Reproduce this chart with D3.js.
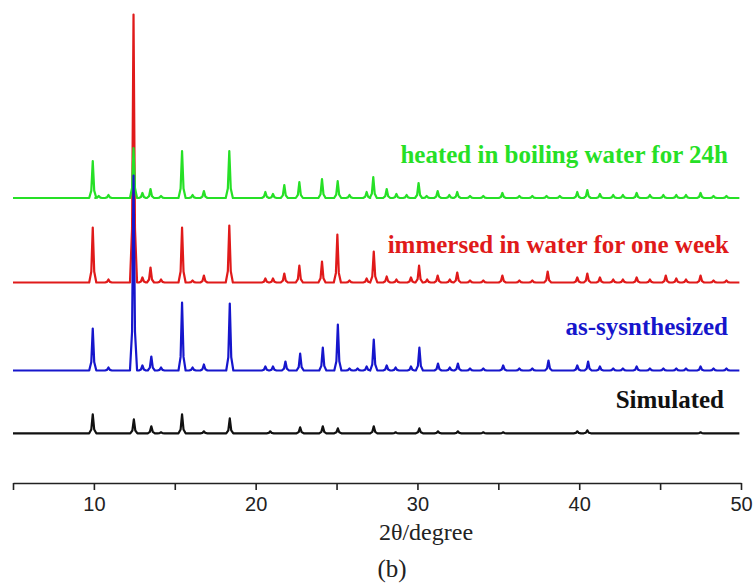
<!DOCTYPE html>
<html>
<head>
<meta charset="utf-8">
<script src="https://cdn.jsdelivr.net/npm/d3@7"></script>
<style>
  body { margin: 0; background: #fff; }
  .tick text { font-family: "Liberation Sans", Arial, sans-serif; }
</style>
</head>
<body>
<div id="plot"></div>
<script>
// peak lists: [2theta, intensity (a.u.)]
var simulated = [[9.93,19],[12.47,14],[13.55,7],[14.15,1],[15.45,19],[16.8,2],[18.4,15],[20.9,2],[22.75,6],[24.15,7],[25.08,5],[27.3,7],[28.65,1],[30.12,5],[31.27,2],[32.5,2],[34.07,1],[35.3,1],[39.88,2],[40.5,3],[47.5,1]];

var asSynth = [[9.93,42],[10.9,3],[12.45,195],[13.0,5],[13.55,14],[14.15,3],[15.45,68],[16.1,3],[16.8,6],[18.4,67],[20.6,4],[21.07,4],[21.84,9],[22.75,17],[24.15,23],[25.08,46],[25.8,2],[26.3,2],[26.86,4],[27.3,31],[28.1,5],[28.65,3],[29.6,4],[30.12,23],[31.27,7],[32.0,3],[32.5,7],[33.25,2],[34.07,2],[35.3,5],[36.3,2],[37.1,2],[38.1,10],[39.88,5],[40.55,9],[41.28,4],[42.1,2],[42.7,2],[43.55,4],[44.37,2],[45.2,2],[46.0,2],[46.6,2],[47.5,4],[48.3,2],[49.1,2]];

var immersed = [[9.93,55],[10.9,3],[12.45,268],[13.0,5],[13.5,15],[14.15,3],[15.45,55],[16.1,2],[16.8,7],[18.37,57],[20.6,4],[21.07,4],[21.77,9],[22.7,17],[24.1,21],[25.05,48],[25.8,2],[26.86,4],[27.3,31],[28.1,6],[28.7,3],[29.6,5],[30.1,17],[30.6,3],[31.25,7],[32.0,3],[32.46,10],[33.25,2],[34.07,2],[35.25,7],[36.3,2],[37.1,2],[38.05,11],[39.88,5],[40.5,9],[41.28,5],[42.1,3],[42.7,3],[43.55,5],[44.37,3],[45.35,7],[46.0,4],[46.6,3],[47.5,7],[48.3,2],[49.1,2]];

var heated = [[9.93,37],[10.3,2],[10.9,3],[12.45,50],[13.0,5],[13.5,9],[14.15,2],[15.45,47],[16.1,3],[16.8,7],[18.37,47],[20.6,6],[21.07,4],[21.77,13],[22.7,16],[24.1,19],[25.07,17],[25.8,3],[26.86,6],[27.27,21],[28.1,9],[28.7,4],[29.33,3],[30.07,15],[30.57,2],[31.25,7],[31.97,3],[32.46,6],[33.25,2],[34.07,2],[35.25,5],[36.3,2],[37.1,2],[37.98,2],[38.8,2],[39.88,6],[40.5,8],[41.28,4],[42.1,3],[42.7,3],[43.55,5],[44.37,3],[45.2,3],[46.0,3],[46.6,3],[47.5,5],[48.3,2],[49.1,2]];

// vertical offsets of each pattern and labels
var names = ["immersed in water for one week", "heated in boiling water for 24h", "as-sysnthesized", "Simulated"];
var offsets = [200.5, 285, 112.5, 49.7];
var colors = ["#e01a1a", "#26e026", "#1616cc", "#111111"];
var xTicks = [5, 10, 15, 20, 25, 30, 35, 40, 45, 50];
var thetaRange = [5, 49.9];

var series = [immersed, heated, asSynth, simulated];

var width = 756, height = 586;
var axisY = 483;

var xScale = d3.scaleLinear()
  .domain([5, 50])
  .range([13, 741]);

var yScale = d3.scaleLinear()
  .domain([0, 483])
  .range([axisY, 0]);

// turn a peak list into a trace (baseline + narrow peaks)
function trace(peaks) {
  var pts = [[thetaRange[0], 0]];
  peaks.slice().sort(function(a, b) { return a[0] - b[0]; }).forEach(function(p) {
    pts.push([p[0] - 0.22, 0]);
    pts.push([p[0] - 0.09, p[1] * 0.2]);
    pts.push([p[0], p[1]]);
    pts.push([p[0] + 0.09, p[1] * 0.2]);
    pts.push([p[0] + 0.22, 0]);
  });
  pts.push([thetaRange[1], 0]);
  return pts;
}

var svg = d3.select("#plot").append("svg")
  .attr("width", width)
  .attr("height", height);

series.forEach(function(s, i) {
  var line = d3.line()
    .x(function(d) { return xScale(d[0]); })
    .y(function(d) { return yScale(d[1] + offsets[i]); });
  svg.append("path")
    .datum(trace(s))
    .attr("d", line)
    .attr("fill", "none")
    .attr("stroke", colors[i])
    .attr("stroke-width", 2.2)
    .attr("stroke-linejoin", "round");
});

// labels
var labelPos = [[729, 253], [728, 163], [728, 335], [724, 408]];
names.forEach(function(n, i) {
  svg.append("text")
    .attr("x", labelPos[i][0])
    .attr("y", labelPos[i][1])
    .attr("text-anchor", "end")
    .attr("font-family", "'Liberation Serif', 'Times New Roman', serif")
    .attr("font-weight", "bold")
    .attr("font-size", 25)
    .attr("fill", colors[i])
    .text(n);
});

var xAxis = svg.append("g")
  .attr("transform", "translate(0," + axisY + ")")
  .call(d3.axisBottom(xScale)
    .tickValues(xTicks)
    .tickSize(7)
    .tickSizeOuter(0)
    .tickPadding(7)
    .tickFormat(function(d) { return d % 10 === 0 ? d : ""; }));

xAxis.select(".domain").attr("stroke-width", 1.6).attr("stroke", "#222");
xAxis.selectAll(".tick line").attr("stroke-width", 1.6).attr("stroke", "#222");
xAxis.selectAll(".tick text").attr("font-size", 20).attr("fill", "#222");

svg.append("text")
  .attr("x", 426)
  .attr("y", 540)
  .attr("text-anchor", "middle")
  .attr("font-family", "'Liberation Serif', 'Times New Roman', serif")
  .attr("font-size", 24)
  .attr("fill", "#222")
  .text("2θ/degree");

svg.append("text")
  .attr("x", 392)
  .attr("y", 577)
  .attr("text-anchor", "middle")
  .attr("font-family", "'Liberation Serif', 'Times New Roman', serif")
  .attr("font-size", 25)
  .attr("fill", "#222")
  .text("(b)");
</script>
</body>
</html>
